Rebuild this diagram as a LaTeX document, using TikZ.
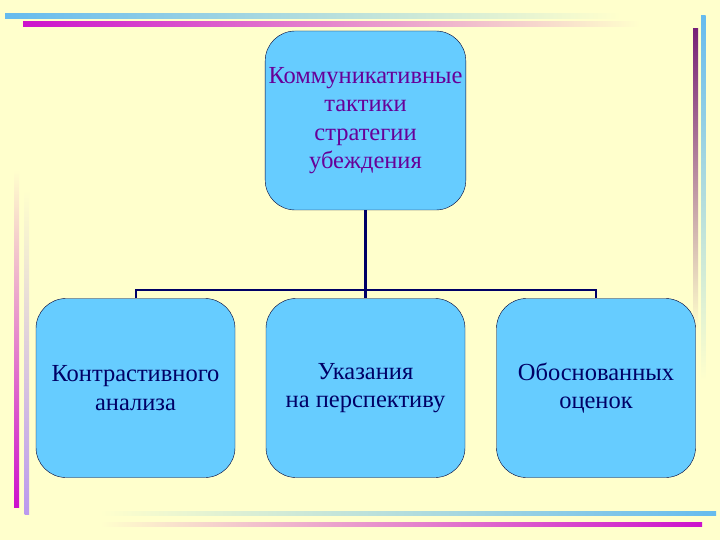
\documentclass[tikz,border=0pt]{standalone}
\usepackage{fontspec}
\setmainfont{Liberation Serif}
\usepackage{xcolor}
\usetikzlibrary{positioning,calc}
\definecolor{slidebg}{HTML}{FFFFCC}
\definecolor{boxfill}{HTML}{66CCFF}
\definecolor{boxline}{HTML}{000033}
\definecolor{navytext}{HTML}{000066}
\definecolor{violettext}{HTML}{660099}
\definecolor{stripeblue}{HTML}{66BBEE}
\definecolor{stripemagenta}{HTML}{CC11CC}
\definecolor{stripeplum}{HTML}{772277}
\definecolor{stripelilac}{HTML}{BB99EE}
\tikzset{
  tacticbox/.style={draw=boxline, fill=boxfill, rounded corners=30pt,
    minimum width=199pt, minimum height=179pt, align=center,
    text=navytext, font=\fontsize{24.5}{28.5}\selectfont},
  bus/.style={draw=navytext, line width=2pt},
}

\begin{document}
\begin{tikzpicture}[x=1pt, y=-1pt]
  % Slide background
  \fill[slidebg] (0,0) rectangle (720,540);
  \useasboundingbox (0,0) rectangle (720,540);

  % Decorative stripes, top
  \shade[left color=stripeblue, right color=slidebg] (5,14) rectangle (620,18.5);
  \shade[left color=stripemagenta, middle color=stripemagenta!35!slidebg, right color=slidebg] (23,22) rectangle (640,26.5);
  % right
  \shade[top color=stripeblue, bottom color=slidebg] (701,16) rectangle (705.5,380);
  \shade[top color=stripeplum, bottom color=slidebg] (693,29) rectangle (698,330);
  % bottom
  \shade[left color=slidebg, right color=stripeblue] (100,511) rectangle (716,515.5);
  \shade[left color=slidebg, right color=stripemagenta] (100,522) rectangle (702,526.5);
  % left
  \shade[top color=slidebg, bottom color=stripemagenta] (14,170) rectangle (19,507);
  \shade[top color=slidebg, bottom color=stripelilac] (24.5,190) rectangle (29,514);

  % Boxes
  \node[tacticbox, text=violettext] (root) at (365.5,120.5)
    {Коммуникативные\\тактики\\стратегии\\убеждения};
  \node[tacticbox] (contrast) at (135.5,388) {Контрастивного\\анализа};
  \node[tacticbox] (persp) at (365.5,388) {Указания\\на перспективу};
  \node[tacticbox] (grounded) at (596,388) {Обоснованных\\оценок};

  % Connectors
  \coordinate (fork) at (365.5,290);
  \draw[bus] (contrast.north) -- (contrast.north |- fork)
    -- (grounded.north |- fork) -- (grounded.north);
  \draw[draw=navytext, line width=3pt] (root.south) -- (persp.north);
\end{tikzpicture}
\end{document}
